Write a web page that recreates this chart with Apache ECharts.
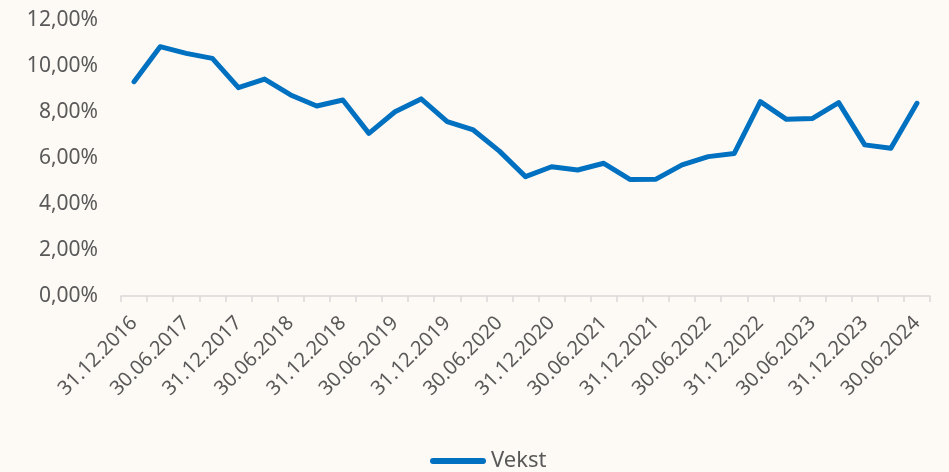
<!DOCTYPE html>
<html>
<head>
<meta charset="utf-8">
<style>
html,body{margin:0;padding:0;background:#fdf9f5;}
#c{width:949px;height:472px;}
</style>
<script src="https://cdn.jsdelivr.net/npm/echarts@6/dist/echarts.min.js"></script>
</head>
<body>
<div id="c"></div>
<script>
const categories = [
  '31.12.2016','31.03.2017','30.06.2017','30.09.2017','31.12.2017',
  '31.03.2018','30.06.2018','30.09.2018','31.12.2018',
  '31.03.2019','30.06.2019','30.09.2019','31.12.2019',
  '31.03.2020','30.06.2020','30.09.2020','31.12.2020',
  '31.03.2021','30.06.2021','30.09.2021','31.12.2021',
  '31.03.2022','30.06.2022','30.09.2022','31.12.2022',
  '31.03.2023','30.06.2023','30.09.2023','31.12.2023',
  '31.03.2024','30.06.2024'
];
const vekst = [
  9.32, 10.84, 10.55, 10.33, 9.06,
  9.43, 8.74, 8.26, 8.52,
  7.07, 8.01, 8.57, 7.58,
  7.22, 6.30, 5.19, 5.62,
  5.48, 5.77, 5.07, 5.08,
  5.70, 6.06, 6.20, 8.45,
  7.68, 7.72, 8.41, 6.57,
  6.42, 8.38
];
const seriesName = 'Vekst';

const chart = echarts.init(document.getElementById('c'));
const font = '"Noto Sans", sans-serif';
chart.setOption({
  backgroundColor: '#fdf9f5',
  animation: false,
  grid: {left: 121, right: 19, top: 20, bottom: 176, containLabel: false},
  xAxis: {
    type: 'category',
    data: categories,
    boundaryGap: true,
    axisLine: {lineStyle: {color: '#d9d9d9', width: 1.5}},
    axisTick: {show: true, interval: 0, length: 6, lineStyle: {color: '#d9d9d9', width: 1.5}},
    axisLabel: {
      interval: 1, rotate: 45, color: '#595959', fontSize: 20, fontFamily: font, margin: 24
    }
  },
  yAxis: {
    type: 'value',
    min: 0, max: 12, interval: 2,
    splitLine: {show: false},
    axisLine: {show: false},
    axisTick: {show: false},
    axisLabel: {
      color: '#595959', fontSize: 21, fontFamily: font, margin: 23,
      formatter: v => v.toFixed(2).replace('.', ',') + '%'
    }
  },
  legend: {
    top: 445, left: 425,
    itemWidth: 56, itemHeight: 6, itemGap: 2,
    textStyle: {color: '#595959', fontSize: 22, fontFamily: font},
    data: [{name: seriesName, icon: 'path://M3,0 L53,0 A3,3 0 0 1 53,6 L3,6 A3,3 0 0 1 3,0 Z', itemStyle: {color: '#0070c0'}}]
  },
  series: [{
    name: seriesName,
    type: 'line',
    data: vekst,
    symbol: 'none',
    lineStyle: {color: '#0070c0', width: 5, cap: 'round', join: 'round'},
    itemStyle: {color: '#0070c0'}
  }]
});
</script>
</body>
</html>
